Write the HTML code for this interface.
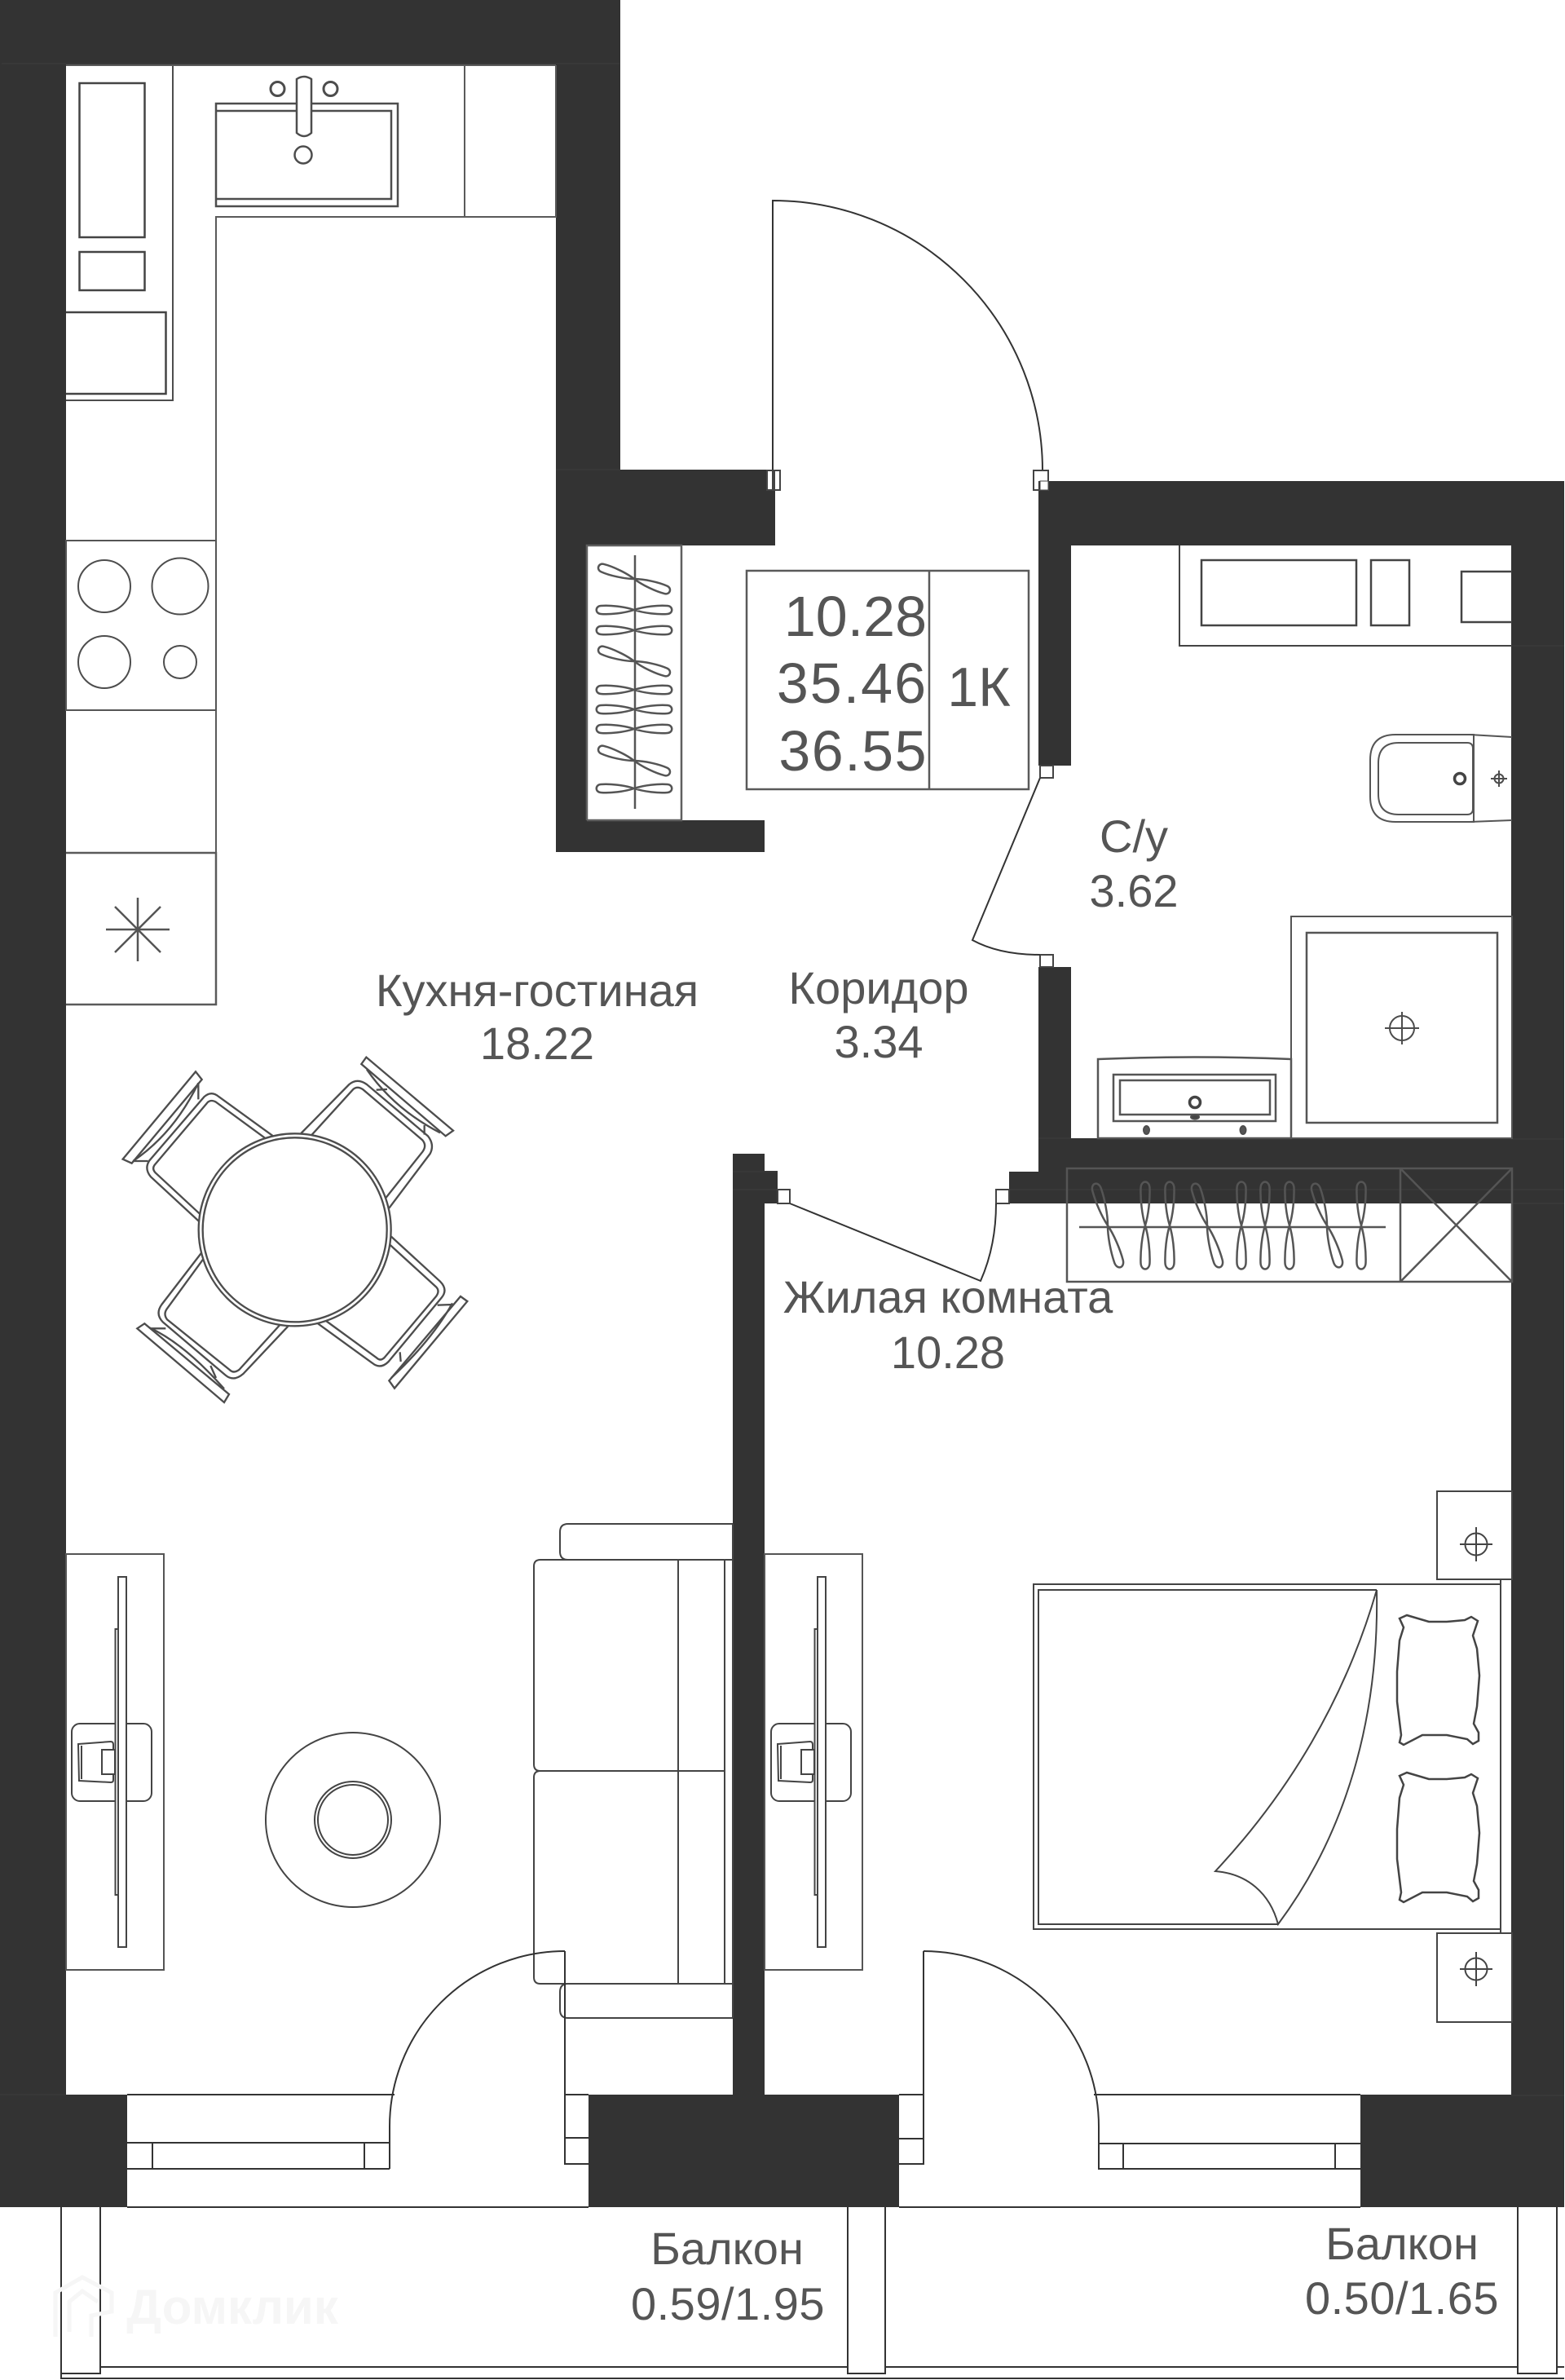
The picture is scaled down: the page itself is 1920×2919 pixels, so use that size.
<!DOCTYPE html>
<html lang="ru"><head><meta charset="utf-8"><title>Планировка</title>
<style>html,body{margin:0;padding:0;background:#fff}svg{display:block}
text{font-family:"Liberation Sans",sans-serif;fill:#555;text-anchor:middle}</style></head>
<body>
<svg xmlns="http://www.w3.org/2000/svg" width="1920" height="2919" viewBox="0 0 1920 2919">
<defs>
<path id="h" d="M0,0C-12,-4 -30,-6 -41,-5C-48,-4.500 -48,4.500 -41,5C-30,6 -12,4 0,0C12,-4 30,-6 41,-5C48,-4.500 48,4.500 41,5C30,6 12,4 0,0Z"/>
<path id="v" d="M0,0C-4,-13 -6,-32 -5.500,-46C-5,-56 5,-56 5.500,-46C6,-32 4,-13 0,0C-4,13 -6,32 -5.500,46C-5,56 5,56 5.500,46C6,32 4,13 0,0Z"/>
<path id="pil" d="M1717,1985L1726,1981L1753,1989L1775,1989L1797,1987L1805,1983L1813,1988L1807,2006L1812,2022L1815,2055L1812,2093L1808,2114L1814,2125L1814,2135L1807,2139L1800,2133L1775,2128L1745,2128L1722,2140L1717,2137L1719,2128L1714,2087L1714,2050L1717,2012L1722,1996Z"/>
<g id="tv" fill="#fff">
<rect x="88" y="2114" width="98" height="95" rx="10"/>
<path d="M96,2139L136,2136Q139,2136 139,2140L139,2183Q139,2186 136,2186L97,2184Z"/>
<path d="M100,2141V2182"/>
<rect x="125" y="2146" width="16" height="30"/>
<rect x="141.500" y="1998" width="12" height="326"/>
<rect x="145" y="1934" width="10" height="454"/>
</g>
</defs>
<rect width="1920" height="2919" fill="#fff"/>

<!-- walls -->
<g fill="#333">
<rect x="0" y="0" width="761" height="80"/>
<rect x="0" y="0" width="81" height="2707"/>
<rect x="682" y="0" width="79" height="600"/>
<rect x="682" y="576" width="258" height="26"/>
<rect x="682" y="602" width="269" height="67"/>
<rect x="682" y="669" width="38" height="337"/>
<rect x="682" y="1006" width="256" height="39"/>
<rect x="1274" y="590" width="645" height="79"/>
<rect x="1274" y="590" width="40" height="349"/>
<rect x="1854" y="590" width="65" height="2117"/>
<rect x="1274" y="1186" width="40" height="210"/>
<rect x="1274" y="1396" width="645" height="41"/>
<rect x="1238" y="1437" width="681" height="39"/>
<rect x="899" y="1415" width="39" height="1155"/>
<rect x="899" y="1436" width="55" height="40"/>
<rect x="0" y="2569" width="156" height="138"/>
<rect x="722" y="2569" width="381" height="138"/>
<rect x="1669" y="2569" width="250" height="138"/>
</g>
<g stroke="#3e3e3e" stroke-width="1" fill="none">
<path d="M2,78H760M682,576H761M1314,1396H1274M0,2569H80M899,1437H954M899,1459H954M1238,1459H1919M1854,792H1919M1854,1397H1919M1854,1476H1919M1854,2570H1919"/>
</g>

<g fill="none" stroke="#4d4d4d" stroke-width="2">
<!-- kitchen upper -->
<path d="M81,80H212V491H81"/>
<rect x="97.500" y="102" width="80" height="189" stroke-width="2.500" stroke="#444"/>
<rect x="97.500" y="309" width="80" height="47" stroke-width="2.500" stroke="#444"/>
<path d="M81,383H203.500V483H81" stroke-width="2.500" stroke="#444"/>
<rect x="265" y="127" width="223" height="126" stroke-width="2.500"/>
<path d="M265,136H480V244H265" stroke-width="2.500"/>
<path d="M364,97Q373,91 382,97V163Q373,171 364,163Z" fill="#fff" stroke-width="2.500"/>
<circle cx="340.500" cy="109" r="8.500" stroke-width="3"/>
<circle cx="405.500" cy="109" r="8.500" stroke-width="3"/>
<circle cx="372" cy="190" r="10.500" stroke-width="2.500"/>
<path d="M682,80V266H265V1233M570,80V265M81,80H682" stroke="#5a5a5a"/>
<rect x="81" y="663" width="184" height="208" stroke="#555"/>
<circle cx="128" cy="719" r="32"/><circle cx="221" cy="719" r="34.500"/>
<circle cx="128" cy="812" r="32"/><circle cx="221" cy="812" r="20"/>
<path d="M81,1046H265V1232H81" stroke-width="2.500" stroke="#5a5a5a"/>
<path d="M130,1140H208M169,1101V1179M141,1112L197,1168M197,1112L141,1168" stroke-width="2.500" stroke="#555"/>

<!-- niche wardrobe -->
<path d="M720,1006V669H836V1006H720" stroke="#5f5f5f" stroke-width="2.500"/>
<path d="M779,681V992" stroke="#555" stroke-width="2.500"/>
<g stroke="#555" stroke-width="2.500">
<use href="#h" transform="translate(778,710) rotate(19)"/>
<use href="#h" transform="translate(778,748)"/>
<use href="#h" transform="translate(778,773)"/>
<use href="#h" transform="translate(778,811) rotate(19)"/>
<use href="#h" transform="translate(778,846)"/>
<use href="#h" transform="translate(778,870)"/>
<use href="#h" transform="translate(778,894)"/>
<use href="#h" transform="translate(778,933) rotate(19)"/>
<use href="#h" transform="translate(778,967)"/>
</g>

<!-- summary box -->
<rect x="916" y="700" width="346" height="268" stroke="#5a5a5a" stroke-width="2.500"/>
<path d="M1140,700V968" stroke="#5a5a5a" stroke-width="2.500"/>

<!-- entry door -->
<path d="M948,577V246A331,331 0 0 1 1279,577" stroke="#333" stroke-width="2"/>
<rect x="941" y="577" width="16" height="24" fill="#fff" stroke="#444"/>
<path d="M948,577V601M950,577V601" stroke="#444"/>
<rect x="1268" y="577" width="18" height="24" fill="none" stroke="#444"/>
<rect x="1276" y="590" width="10" height="11" fill="#fff" stroke="#444" stroke-width="1"/>

<!-- bathroom -->
<path d="M1447,669V792H1855" stroke="#444"/>
<rect x="1474" y="687" width="190" height="80" stroke="#444" stroke-width="2.500"/>
<rect x="1682" y="687" width="47" height="80" stroke="#444" stroke-width="2.500"/>
<path d="M1855,701H1793V763H1855" stroke="#444" stroke-width="2.500"/>
<path d="M1808,901H1712Q1681,901 1681,932V977Q1681,1008 1712,1008H1808Z" stroke="#555"/>
<path d="M1800,911H1716Q1691,911 1691,936V974Q1691,999 1716,999H1800Q1807,999 1807,992V918Q1807,911 1800,911Z" stroke="#555"/>
<path d="M1803,901L1855,904M1803,1008L1855,1006M1808,903Q1808,906 1808,925M1808,985V1006" stroke="#555"/>
<ellipse cx="1791" cy="955" rx="6.500" ry="6.500" stroke="#444" stroke-width="3.500"/>
<circle cx="1839" cy="955" r="5.500" stroke-width="2"/><path d="M1829,955H1849M1839,945V965" stroke-width="2"/>
<rect x="1584" y="1124" width="271" height="272" stroke="#555"/>
<rect x="1603" y="1144" width="234" height="233" stroke="#555" stroke-width="2.500"/>
<circle cx="1720" cy="1261" r="15"/><path d="M1699,1261H1741M1720,1241V1281"/>
<path d="M1347,1396V1299Q1466,1294 1584,1299V1396Z" stroke="#555" stroke-width="2.500"/>
<rect x="1366" y="1318" width="199" height="57" stroke="#555" stroke-width="2.500"/>
<rect x="1374" y="1325" width="184" height="42" stroke="#555" stroke-width="2.500"/>
<circle cx="1466" cy="1352" r="6.500" stroke="#444" stroke-width="3.500"/>
<ellipse cx="1466" cy="1370" rx="5" ry="2.500" fill="#444"/>
<ellipse cx="1406.500" cy="1386" rx="3.500" ry="5" fill="#555"/>
<ellipse cx="1525" cy="1386" rx="3.500" ry="5" fill="#555"/>

<!-- bathroom door -->
<rect x="1276" y="939" width="16" height="15" stroke="#444" fill="#fff"/>
<rect x="1276" y="1171" width="16" height="15" stroke="#444" fill="#fff"/>
<path d="M1276,954L1193,1153Q1226,1171 1276,1171" stroke="#333"/>

<!-- room door -->
<rect x="954" y="1459" width="15" height="17" stroke="#444" fill="#fff"/>
<rect x="1222" y="1459" width="16" height="17" stroke="#444" fill="#fff"/>
<path d="M969,1476L1203,1571Q1222,1528 1222,1476" stroke="#333"/>

<!-- wardrobe lower -->
<path d="M1309,1433H1855V1572H1309ZM1718,1433V1572M1718,1433L1855,1572M1855,1433L1718,1572" stroke="#555" stroke-width="2.500"/>
<path d="M1324,1505H1700" stroke="#555" stroke-width="2.500"/>
<g stroke="#555" stroke-width="2.500">
<use href="#v" transform="translate(1359,1503) rotate(-17)"/>
<use href="#v" transform="translate(1405,1503)"/>
<use href="#v" transform="translate(1435,1503)"/>
<use href="#v" transform="translate(1481,1503) rotate(-17)"/>
<use href="#v" transform="translate(1523,1503)"/>
<use href="#v" transform="translate(1552,1503)"/>
<use href="#v" transform="translate(1582,1503)"/>
<use href="#v" transform="translate(1628,1503) rotate(-17)"/>
<use href="#v" transform="translate(1670,1503)"/>
</g>

<!-- table and chairs -->
<g transform="translate(100,1250) scale(.33333)" stroke="#4d4d4d" stroke-width="7">
<path d="M705,430L505,285Q478,262 452,285L250,520Q230,550 255,580L437,748"/>
<path d="M675,437L495,305Q478,295 465,305L270,535Q258,550 272,565L437,718"/>
<path d="M152,515L420,193L443,222L185,530Z"/>
<path d="M190,522Q340,420 430,235V295M190,522H245"/>
<path d="M808,420L985,240Q1015,215 1050,240L1275,430Q1300,462 1283,495L1132,695"/>
<path d="M848,425L1000,258Q1015,245 1035,258L1255,445Q1272,465 1255,488L1118,660"/>
<path d="M1048,140L1368,410L1340,430L1030,165Z"/>
<path d="M1050,185Q1150,330 1320,418M1085,260L1125,258M1262,390V425"/>
<path d="M445,855L295,1050Q270,1085 300,1115L530,1310Q560,1335 595,1305L760,1130"/>
<path d="M450,880L315,1065Q300,1085 315,1105L545,1290Q560,1305 580,1290L730,1125"/>
<path d="M205,1138L232,1120L543,1380L525,1410Z"/>
<path d="M250,1135Q380,1195 525,1360M258,1138L310,1138M475,1275L495,1320"/>
<path d="M870,1120L1070,1265Q1100,1290 1130,1260L1325,1025Q1350,995 1320,965L1140,800"/>
<path d="M900,1110L1085,1245Q1100,1260 1115,1245L1305,1020Q1320,1000 1305,985L1135,830"/>
<path d="M1132,1330L1395,1020L1420,1038L1152,1358Z"/>
<path d="M1140,1320Q1290,1180 1365,1045M1310,1052L1365,1050M1172,1225L1175,1260"/>
<circle cx="785" cy="775" r="354" fill="#fff"/>
<circle cx="785" cy="775" r="339"/>
</g>

<!-- TV 1, rug -->
<rect x="81" y="1906" width="120" height="510" stroke="#555" fill="none"/>
<use href="#tv" stroke="#444" stroke-width="2"/>
<circle cx="433" cy="2232" r="107" stroke="#444"/>
<circle cx="433" cy="2232" r="47" stroke="#444"/><circle cx="433" cy="2232" r="43" stroke="#444"/>

<!-- sofa -->
<g stroke="#444">
<path d="M899,1869H697Q687,1869 687,1879V1903Q687,1913 697,1913"/>
<path d="M899,1913H663Q655,1913 655,1921V2164Q655,2172 663,2172H889M663,2172Q655,2172 655,2180V2425Q655,2433 663,2433H899"/>
<path d="M832,1913V2433M889,1913V2433M899,1869V2475"/>
<path d="M899,2475H697Q687,2475 687,2465V2443Q687,2433 697,2433"/>
</g>

<!-- balcony doors -->
<g stroke="#333" stroke-width="2">
<path d="M156,2569H484M156,2628H478M156,2660H478M187,2628V2660M447,2628V2660"/>
<path d="M693,2393A215,215 0 0 0 478,2608V2660"/>
<path d="M693,2393V2654H722M693,2622H722M693,2569H722"/>
<path d="M1342,2569H1669M1347,2629H1669M1347,2660H1669M1378,2629V2660M1638,2629V2660"/>
<path d="M1133,2393A215,215 0 0 1 1348,2608V2660"/>
<path d="M1133,2393V2654H1103M1133,2623H1103M1133,2569H1103"/>
</g>

<!-- TV 2 -->
<rect x="938" y="1906" width="120" height="510" stroke="#555"/>
<use href="#tv" transform="translate(858,0)" stroke="#444" stroke-width="2"/>

<!-- bed -->
<g stroke="#444">
<path d="M1841,1943H1268V2366H1841ZM1841,1937V2371H1855"/>
<path d="M1568,2360H1274V1950H1689"/>
<path d="M1689,1950C1650,2085 1580,2200 1491,2295C1530,2298 1558,2322 1568,2360C1650,2250 1692,2110 1689,1950"/>
<rect x="1763" y="1829" width="92" height="108"/>
<rect x="1763" y="2371" width="92" height="109"/>
<circle cx="1811" cy="1894" r="13.500"/><path d="M1791,1894H1831M1811,1873V1915"/>
<circle cx="1811" cy="2415" r="13.500"/><path d="M1791,2415H1831M1811,2394V2436"/>
<use href="#pil" stroke-width="2.500"/>
<use href="#pil" transform="translate(0,193)" stroke-width="2.500"/>
</g>

<!-- balcony -->
<g stroke="#333" stroke-width="2">
<path d="M156,2707H722M1103,2707H1669"/>
<path d="M75,2707V2917H1919M123,2707V2911H75M123,2903H1040M1040,2707V2911H1086V2707M1086,2903H1862M1862,2707V2911H1910V2707M1910,2903H1919"/>
</g>

<!-- watermark -->
<g stroke="#f6f6f6" stroke-width="5">
<path d="M68,2866Q68,2866 68,2860V2812L101,2793L137,2812V2835L112,2840V2866M85,2860V2823L101,2810L120,2823"/>
</g>
</g>

<text x="285" y="2850" style="font-size:60px;font-weight:bold;fill:#f6f6f6">Домклик</text>

<text x="659" y="1234" font-size="56">Кухня-гостиная</text>
<text x="659" y="1299" font-size="56">18.22</text>
<text x="1078" y="1231" font-size="56">Коридор</text>
<text x="1078" y="1297" font-size="56">3.34</text>
<text x="1391" y="1045" font-size="56">С/у</text>
<text x="1391" y="1112" font-size="56">3.62</text>
<text x="1163" y="1610" font-size="56">Жилая комната</text>
<text x="1163" y="1678" font-size="56">10.28</text>
<text x="1137" y="780" font-size="70" style="text-anchor:end">10.28</text>
<text x="1138" y="862" font-size="70" letter-spacing="2" style="text-anchor:end">35.46</text>
<text x="1138" y="945" font-size="70" letter-spacing="1.500" style="text-anchor:end">36.55</text>
<text x="1201" y="866" font-size="68">1К</text>
<text x="892" y="2777" font-size="56">Балкон</text>
<text x="893" y="2845" font-size="56" letter-spacing=".5">0.59/1.95</text>
<text x="1720" y="2771" font-size="56">Балкон</text>
<text x="1720" y="2838" font-size="56" letter-spacing=".5">0.50/1.65</text>
</svg>
</body></html>
